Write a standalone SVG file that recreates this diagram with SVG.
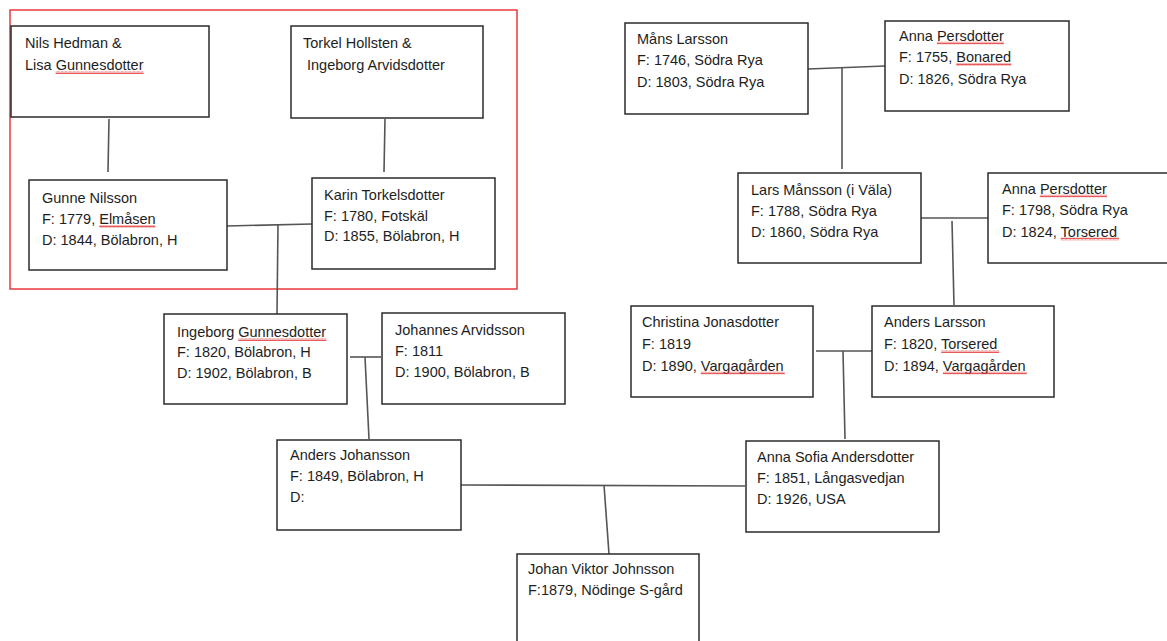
<svg xmlns="http://www.w3.org/2000/svg" width="1167" height="641" viewBox="0 0 1167 641">
<defs>
<style>
.box{fill:#fff;stroke:#2b2b2b;stroke-width:1.5}
.lbl{font-family:"Liberation Sans",Arial,sans-serif;font-size:14.5px;fill:#1e1e1e}
.con line{stroke:#555;stroke-width:1.6}
.sq{fill:url(#wave)}
</style>
<pattern id="wave" x="0" y="0" width="4" height="3" patternUnits="userSpaceOnUse">
<path d="M0,2.5 L1,0.5 L2,2.5 L3,0.5 L4,2.5" fill="none" stroke="#e03030" stroke-width="0.8"/>
</pattern>
</defs>
<rect width="1167" height="641" fill="#fff"/>
<rect id="highlight" x="10" y="10" width="507" height="279" fill="none" stroke="#e8383d" stroke-width="1.5"/>

<g id="connectors" class="con">
<line x1="109" y1="119" x2="108" y2="172"/>
<line x1="385" y1="119" x2="384" y2="172"/>
<line x1="227" y1="226" x2="312" y2="224"/>
<line x1="278" y1="225" x2="277" y2="314"/>
<line x1="350" y1="357" x2="381" y2="357"/>
<line x1="365" y1="357" x2="369" y2="439"/>
<line x1="461" y1="485" x2="745" y2="486"/>
<line x1="604" y1="485" x2="609" y2="554"/>
<line x1="808" y1="69" x2="885" y2="66"/>
<line x1="842" y1="68" x2="842" y2="169"/>
<line x1="921" y1="218" x2="988" y2="218"/>
<line x1="952" y1="221" x2="954" y2="305"/>
<line x1="816" y1="351" x2="872" y2="351"/>
<line x1="843" y1="351" x2="845" y2="439"/>
</g>

<g id="nils-lisa">
<rect class="box" x="11" y="26" width="198" height="91"/>
<text class="lbl" x="25" y="48">Nils Hedman &amp;</text>
<text class="lbl" x="25" y="70">Lisa Gunnesdotter</text>
<rect class="sq" x="55.6" y="71" width="88" height="3"/>
</g>

<g id="torkel-ingeborg">
<rect class="box" x="291" y="26" width="192" height="92"/>
<text class="lbl" x="303" y="48">Torkel Hollsten &amp;</text>
<text class="lbl" x="307" y="70">Ingeborg Arvidsdotter</text>
</g>

<g id="gunne">
<rect class="box" x="29" y="180" width="198" height="90"/>
<text class="lbl" x="42" y="203">Gunne Nilsson</text>
<text class="lbl" x="42" y="224">F: 1779, Elmåsen</text>
<text class="lbl" x="42" y="245">D: 1844, Bölabron, H</text>
<rect class="sq" x="99.2" y="225" width="56" height="3"/>
</g>

<g id="karin">
<rect class="box" x="312" y="178" width="183" height="91"/>
<text class="lbl" x="324" y="199.5">Karin Torkelsdotter</text>
<text class="lbl" x="324" y="220.5">F: 1780, Fotskäl</text>
<text class="lbl" x="324" y="241">D: 1855, Bölabron, H</text>
</g>

<g id="ingeborg">
<rect class="box" x="164" y="314" width="183" height="90"/>
<text class="lbl" x="177" y="337">Ingeborg Gunnesdotter</text>
<text class="lbl" x="177" y="357">F: 1820, Bölabron, H</text>
<text class="lbl" x="177" y="377.5">D: 1902, Bölabron, B</text>
<rect class="sq" x="238.3" y="338" width="88" height="3"/>
</g>

<g id="johannes">
<rect class="box" x="382" y="313" width="183" height="91"/>
<text class="lbl" x="395" y="335">Johannes Arvidsson</text>
<text class="lbl" x="395" y="355.5">F: 1811</text>
<text class="lbl" x="395" y="376.5">D: 1900, Bölabron, B</text>
</g>

<g id="anders-johansson">
<rect class="box" x="277" y="440" width="184" height="90"/>
<text class="lbl" x="290" y="459.5">Anders Johansson</text>
<text class="lbl" x="290" y="480.5">F: 1849, Bölabron, H</text>
<text class="lbl" x="290" y="501.5">D:</text>
</g>

<g id="mans">
<rect class="box" x="625" y="23" width="183" height="91"/>
<text class="lbl" x="637" y="43.5">Måns Larsson</text>
<text class="lbl" x="637" y="65">F: 1746, Södra Rya</text>
<text class="lbl" x="637" y="87">D: 1803, Södra Rya</text>
</g>

<g id="anna-persdotter-1">
<rect class="box" x="885" y="21" width="184" height="90"/>
<text class="lbl" x="899" y="40.5">Anna Persdotter</text>
<text class="lbl" x="899" y="62">F: 1755, Bonared</text>
<text class="lbl" x="899" y="83.5">D: 1826, Södra Rya</text>
<rect class="sq" x="936.9" y="41.5" width="67" height="3"/>
<rect class="sq" x="956.2" y="63" width="55" height="3"/>
</g>

<g id="lars">
<rect class="box" x="738" y="173" width="183" height="90"/>
<text class="lbl" x="751" y="195">Lars Månsson (i Väla)</text>
<text class="lbl" x="751" y="215.5">F: 1788, Södra Rya</text>
<text class="lbl" x="751" y="236.5">D: 1860, Södra Rya</text>
</g>

<g id="anna-persdotter-2">
<rect class="box" x="988" y="173" width="185" height="90"/>
<text class="lbl" x="1002" y="193.5">Anna Persdotter</text>
<text class="lbl" x="1002" y="215">F: 1798, Södra Rya</text>
<text class="lbl" x="1002" y="236.5">D: 1824, Torsered</text>
<rect class="sq" x="1039.9" y="194.5" width="67" height="3"/>
<rect class="sq" x="1060.8" y="237.5" width="58" height="3"/>
</g>

<g id="christina">
<rect class="box" x="631" y="306" width="182" height="91"/>
<text class="lbl" x="642" y="327">Christina Jonasdotter</text>
<text class="lbl" x="642" y="349">F: 1819</text>
<text class="lbl" x="642" y="370.5">D: 1890, Vargagården</text>
<rect class="sq" x="700.8" y="371.5" width="84" height="3"/>
</g>

<g id="anders-larsson">
<rect class="box" x="872" y="306" width="182" height="91"/>
<text class="lbl" x="884" y="327">Anders Larsson</text>
<text class="lbl" x="884" y="349">F: 1820, Torsered</text>
<text class="lbl" x="884" y="370.5">D: 1894, Vargagården</text>
<rect class="sq" x="941.2" y="350" width="58" height="3"/>
<rect class="sq" x="942.8" y="371.5" width="84" height="3"/>
</g>

<g id="anna-sofia">
<rect class="box" x="746" y="441" width="193" height="91"/>
<text class="lbl" x="757" y="462">Anna Sofia Andersdotter</text>
<text class="lbl" x="757" y="483">F: 1851, Långasvedjan</text>
<text class="lbl" x="757" y="503.5">D: 1926, USA</text>
</g>

<g id="johan">
<rect class="box" x="517" y="554" width="182" height="92"/>
<text class="lbl" x="528" y="573.5">Johan Viktor Johnsson</text>
<text class="lbl" x="528" y="595">F:1879, Nödinge S-gård</text>
</g>
</svg>
